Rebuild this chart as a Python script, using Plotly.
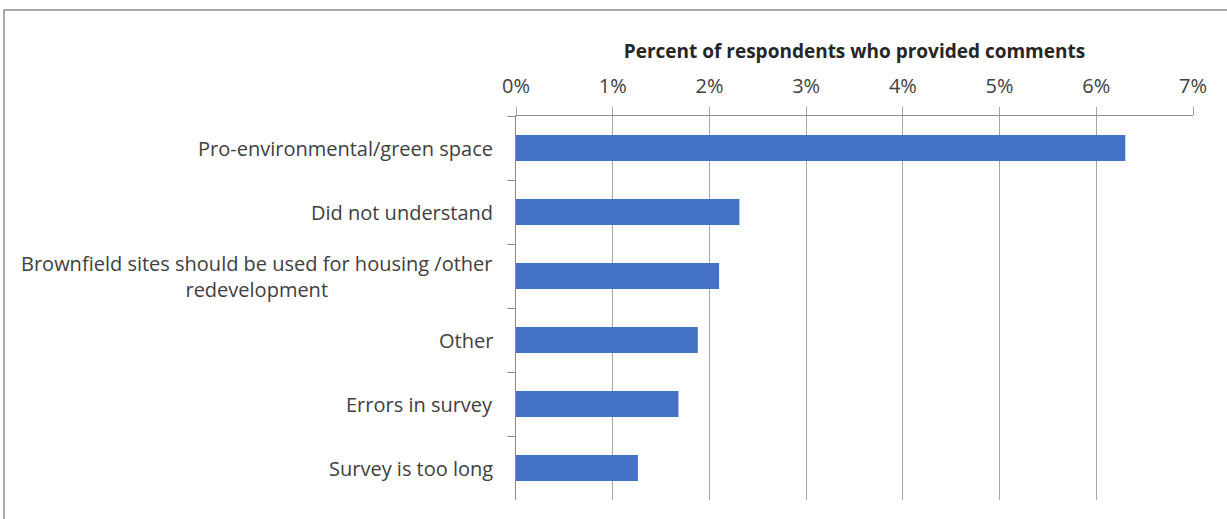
import plotly.graph_objects as go

categories = [
    "Pro-environmental/green space",
    "Did not understand",
    "Brownfield sites should be used for housing /other<br>redevelopment",
    "Other",
    "Errors in survey",
    "Survey is too long",
]
values = [6.30, 2.31, 2.10, 1.88, 1.68, 1.26]
x_ticks = [0, 1, 2, 3, 4, 5, 6, 7]
x_tick_labels = [f"{v}%" for v in x_ticks]
axis_title = "Percent of respondents who provided comments"

FONT = "'Open Sans', sans-serif"
GRID = "#a6a6a6"
AXIS = "#8c8c8c"

W, H = 1227, 519
L, R, T, B = 516, 34, 116, 19
PW, PH = W - L - R, H - T - B

fig = go.Figure()
fig.add_trace(go.Bar(
    x=values, y=categories, orientation="h",
    marker=dict(color="#4472C4", line=dict(width=0)),
    hoverinfo="x+y",
))

for cat in categories:
    fig.add_annotation(
        x=0, xref="paper", y=cat, yref="y",
        text=cat, showarrow=False, xanchor="right", yanchor="middle",
        align="center", xshift=-21,
        font=dict(family=FONT, size=20, color="#404040"),
    )

fig.update_layout(
    width=W, height=H,
    margin=dict(l=L, r=R, t=T, b=B),
    paper_bgcolor="white", plot_bgcolor="white",
    bargap=0.59,
    showlegend=False,
    font=dict(family=FONT, color="#404040"),
    xaxis=dict(
        side="top", range=[0, 7], tickvals=x_ticks, ticktext=x_tick_labels,
        showgrid=True, gridcolor=GRID, gridwidth=1,
        showline=True, linecolor=AXIS, linewidth=1,
        ticks="outside", ticklen=8, tickcolor=GRID,
        ticklabelstandoff=6,
        tickfont=dict(family=FONT, size=20, color="#404040"),
        zeroline=False,
        title=dict(text="<b>" + axis_title + "</b>", standoff=8,
                   font=dict(family=FONT, size=19, color="#262626")),
        fixedrange=True,
    ),
    yaxis=dict(
        type="category", autorange="reversed",
        showticklabels=False,
        showline=True, linecolor=AXIS, linewidth=1,
        ticks="outside", ticklen=8, tickcolor=AXIS, tickson="boundaries",
        showgrid=False, zeroline=False, fixedrange=True,
    ),
    shapes=[dict(type="rect", xref="paper", yref="paper",
                 x0=(4 - L) / PW, x1=1.2,
                 y0=-1, y1=1 + (T - 10) / PH,
                 line=dict(color="#8c8c8c", width=1.5), fillcolor="rgba(0,0,0,0)",
                 layer="below")],
)

fig.write_html("out.html", config={"displayModeBar": False},
               post_script="document.body.style.margin='0';")
